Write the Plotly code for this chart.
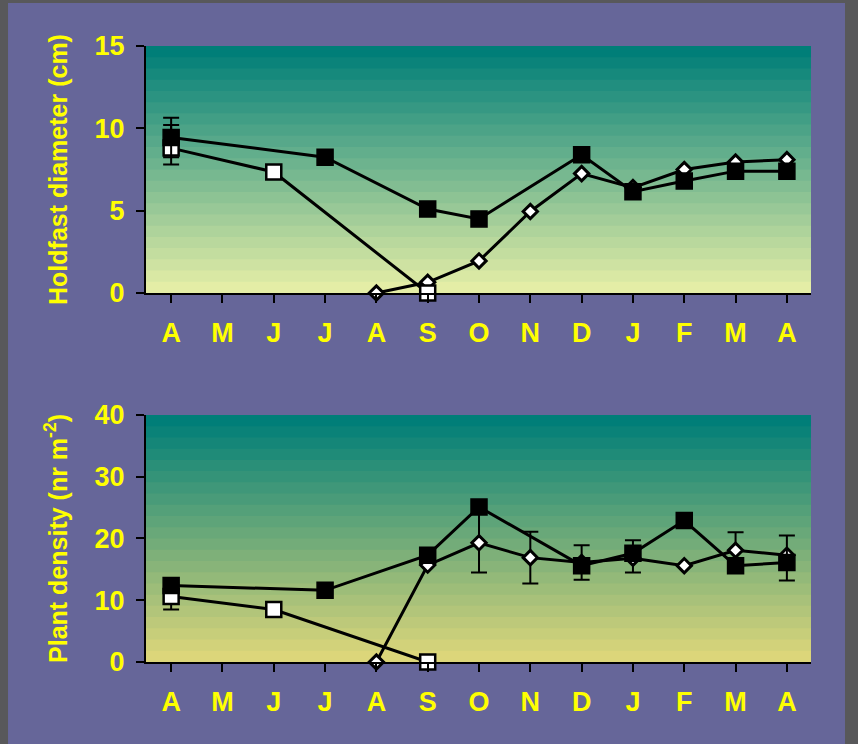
import plotly.graph_objects as go
from plotly.subplots import make_subplots

# Month labels for the sampling series (April to April)
months = ["A", "M", "J", "J", "A", "S", "O", "N", "D", "J", "F", "M", "A"]

# Holdfast diameter (cm)
hd_closed_x = [0, 3, 5, 6, 8, 9, 10, 11, 12]
hd_closed_y = [9.45, 8.25, 5.1, 4.5, 8.4, 6.15, 6.8, 7.4, 7.4]
hd_closed_up = [1.2, 0, 0, 0, 0, 0, 0, 0, 0]
hd_closed_dn = [1.2, 0, 0, 0, 0, 0, 0, 0, 0]

hd_open_x = [0, 2, 5]
hd_open_y = [8.8, 7.35, 0.0]
hd_open_up = [1.4, 0, 0]
hd_open_dn = [1.0, 0, 0]

hd_dia_x = [4, 5, 6, 7, 8, 9, 10, 11, 12]
hd_dia_y = [0.0, 0.65, 1.95, 4.95, 7.25, 6.4, 7.5, 7.95, 8.1]

# Plant density (nr m-2)
pd_closed_x = [0, 3, 5, 6, 8, 9, 10, 11, 12]
pd_closed_y = [12.4, 11.6, 17.3, 25.1, 15.6, 17.6, 22.9, 15.6, 16.1]
pd_closed_up = [0, 0, 0, 0, 0, 0, 0, 0, 4.4]
pd_closed_dn = [0, 0, 0, 0, 0, 0, 0, 0, 2.9]

pd_open_x = [0, 2, 5]
pd_open_y = [10.6, 8.5, 0.0]
pd_open_up = [2.1, 0, 0]
pd_open_dn = [2.1, 0, 0]

pd_dia_x = [4, 5, 6, 7, 8, 9, 10, 11, 12]
pd_dia_y = [0.0, 15.7, 19.3, 16.9, 16.1, 16.8, 15.6, 18.1, 17.3]
pd_dia_up = [0, 0, 4.8, 4.2, 2.8, 2.9, 0, 2.9, 0]
pd_dia_dn = [0, 0, 4.8, 4.2, 2.8, 2.3, 0, 2.9, 0]

YELLOW = "#ffff00"
PURPLE = "#666699"
FONT = "Liberation Sans, Arial, sans-serif"

fig = make_subplots(rows=2, cols=1, vertical_spacing=0.198)


def err(up, dn):
    return dict(type="data", symmetric=False, array=up, arrayminus=dn,
                color="black", thickness=2, width=8)


def add_panel(row, dx, dy, ox, oy, ou, od, cx, cy, cu, cd, du=None, dd=None):
    dia = dict(x=dx, y=dy, mode="lines+markers", cliponaxis=False,
               line=dict(color="black", width=3),
               marker=dict(symbol="diamond", size=11, color="white",
                           line=dict(color="black", width=3)),
               showlegend=False)
    if du is not None:
        dia["error_y"] = err(du, dd)
    fig.add_trace(go.Scatter(**dia), row=row, col=1)
    fig.add_trace(go.Scatter(
        x=ox, y=oy, mode="lines+markers", cliponaxis=False,
        line=dict(color="black", width=3),
        marker=dict(symbol="square", size=15, color="white",
                    line=dict(color="black", width=2.5)),
        error_y=err(ou, od), showlegend=False), row=row, col=1)
    fig.add_trace(go.Scatter(
        x=cx, y=cy, mode="lines+markers", cliponaxis=False,
        line=dict(color="black", width=3),
        marker=dict(symbol="square", size=16, color="black",
                    line=dict(color="black", width=1.5)),
        error_y=err(cu, cd), showlegend=False), row=row, col=1)


add_panel(1, hd_dia_x, hd_dia_y, hd_open_x, hd_open_y, hd_open_up, hd_open_dn,
          hd_closed_x, hd_closed_y, hd_closed_up, hd_closed_dn)
add_panel(2, pd_dia_x, pd_dia_y, pd_open_x, pd_open_y, pd_open_up, pd_open_dn,
          pd_closed_x, pd_closed_y, pd_closed_up, pd_closed_dn,
          pd_dia_up, pd_dia_dn)

shapes = [dict(type="rect", xref="paper", yref="paper",
               x0=-0.2075, x1=1.0511, y0=-0.14, y1=1.0698,
               fillcolor=PURPLE, line=dict(width=0), layer="below")]


def bands(xref, yref, top, bottom, n=22):
    out = []
    for i in range(n):
        t = i / (n - 1)
        c = tuple(round(top[k] + t * (bottom[k] - top[k])) for k in range(3))
        y0 = max(0.0, 1 - (i + 1) / n - 0.004)
        out.append(dict(type="rect", xref=xref, yref=yref, x0=0, x1=1,
                        y0=y0, y1=1 - i / n,
                        fillcolor="rgb(%d,%d,%d)" % c,
                        line=dict(width=0), layer="below"))
    return out


shapes += bands("x domain", "y domain", (0, 126, 120), (228, 237, 166))
shapes += bands("x2 domain", "y2 domain", (0, 126, 120), (220, 214, 122))

tickfont = dict(family=FONT, size=27, color=YELLOW, weight="bold")
titlefont = dict(family=FONT, size=25, color=YELLOW, weight="bold")
axis_common = dict(showline=True, linecolor="black", linewidth=2,
                   ticks="outside", ticklen=8, tickwidth=2, tickcolor="black",
                   showgrid=False, zeroline=False, tickfont=tickfont)

for r in (1, 2):
    fig.update_xaxes(range=[-0.49, 12.47], tickvals=list(range(13)),
                     ticktext=months, ticklabelstandoff=7,
                     row=r, col=1, **axis_common)

fig.update_yaxes(range=[0, 15], tickvals=[0, 5, 10, 15], ticklabelstandoff=6,
                 title=dict(text="Holdfast diameter (cm)", font=titlefont,
                            standoff=20),
                 row=1, col=1, **axis_common)
fig.update_yaxes(range=[0, 40], tickvals=[0, 10, 20, 30, 40],
                 ticklabelstandoff=6,
                 title=dict(text="Plant density (nr m<sup>-2</sup>)",
                            font=titlefont, standoff=20),
                 row=2, col=1, **axis_common)

fig.update_layout(
    width=858, height=744,
    margin=dict(l=146, r=47, t=46, b=82),
    paper_bgcolor="#58585a", plot_bgcolor="rgba(0,0,0,0)",
    shapes=shapes,
)

fig.write_html("out.html")
